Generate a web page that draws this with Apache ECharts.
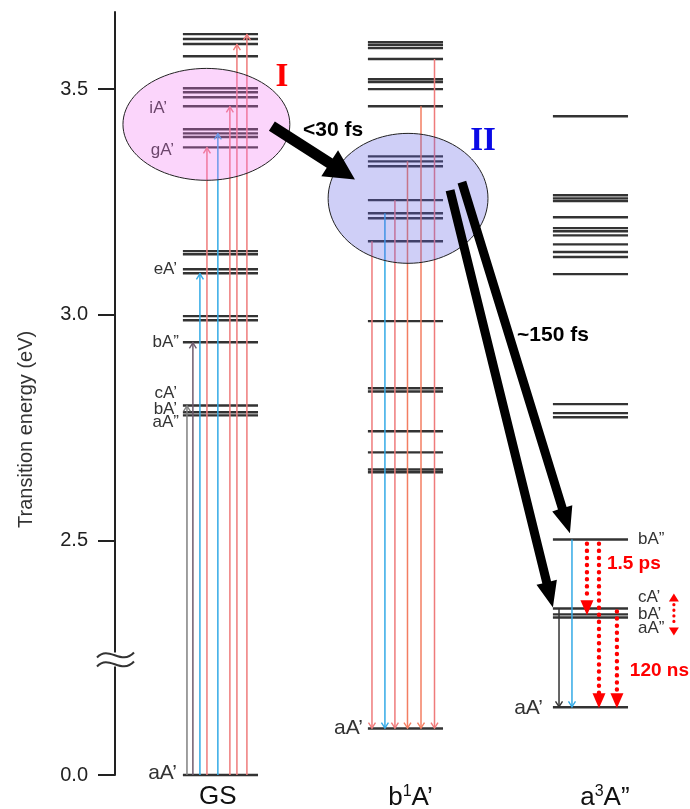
<!DOCTYPE html>
<html><head><meta charset="utf-8">
<script src="https://cdn.jsdelivr.net/npm/echarts@6/dist/echarts.min.js"></script>
<style>html,body{margin:0;padding:0;background:#fff}#c{width:690px;height:809px}</style>
</head><body><div id="c"></div>
<script>
// ---------- data (energies in eV as plotted on the broken axis; x in column units: GS=0, b1A'=1, a3A"=2) ----------
const COLUMNS = ['GS', 'b\u00b9A\u2019', 'a\u00b3A\u201d'];
const COLUMN_RICH = ['{n|GS}', '{n|b}{s|1}{n|A\u2019}', '{n|a}{s|3}{n|A\u201d}'];
const COLUMN_LABEL_X = [-0.014, 1.027, 2.078];
const Y_TICKS = [1.98, 2.5, 3.0, 3.5];
const Y_TICK_LABELS = ['0.0', '2.5', '3.0', '3.5'];
const BREAK_E = 2.236;

const GS_LEVELS = [3.622, 3.611, 3.600, 3.573, 3.502, 3.493, 3.482, 3.462, 3.411, 3.402, 3.394, 3.371,
  3.141, 3.134, 3.101, 3.092, 2.997, 2.988, 2.939, 2.799, 2.784, 2.777, 1.98];
const B1_LEVELS = [3.604, 3.598, 3.591, 3.567, 3.522, 3.516, 3.500, 3.462, 3.351, 3.340, 3.329, 3.254,
  3.225, 3.214, 3.163, 2.986, 2.837, 2.830, 2.742, 2.695, 2.657, 2.651, 2.083];
const A3_LEVELS = [3.440, 3.265, 3.258, 3.252, 3.216, 3.192, 3.185, 3.176, 3.156, 3.139, 3.128, 3.090,
  2.802, 2.782, 2.773, 2.502, 2.349, 2.336, 2.329, 2.130];

const GS_ARROW_X = [-0.181, -0.149, -0.111, -0.073, -0.014, 0.051, 0.089, 0.143];
const GS_ARROW_TO = [2.799, 2.939, 3.092, 3.371, 3.402, 3.462, 3.600, 3.622];
const GS_ARROW_KIND = ['gray', 'mauve', 'blue', 'red', 'blue', 'red', 'red', 'red'];
const B1_ARROW_X = [0.819, 0.889, 0.943, 1.011, 1.084, 1.157];
const B1_ARROW_FROM = [3.163, 3.225, 3.254, 3.340, 3.462, 3.567];
const B1_ARROW_KIND = ['red', 'blue', 'red', 'orange', 'orange', 'red'];
const A3_ARROW_X = [1.830, 1.900];
const A3_ARROW_FROM = [2.349, 2.502];
const A3_ARROW_KIND = ['black', 'blue'];

const DOT_X = [1.981, 2.046, 2.143];
const DOT_FROM = [2.497, 2.497, 2.347];
const DOT_TO = [2.334, 2.128, 2.128];
const DOUBLE_DOT = [2.451, 2.382, 2.289];

const LEVEL_LABEL_TEXT = ['iA\u2019', 'gA\u2019', 'eA\u2019', 'bA\u201d', 'cA\u2019', 'bA\u2019', 'aA\u201d',
  'aA\u2019', 'aA\u2019', 'aA\u2019', 'bA\u201d', 'cA\u2019', 'bA\u2019', 'aA\u201d'];
const LEVEL_LABEL_X = [-0.289, -0.251, -0.235, -0.224, -0.235, -0.235, -0.224, -0.235, 0.770, 1.743, 2.257, 2.257, 2.257, 2.257];
const LEVEL_LABEL_E = [3.458, 3.365, 3.101, 2.939, 2.826, 2.790, 2.762, 1.983, 2.083, 2.128, 2.502, 2.374, 2.336, 2.305];

const REGIONS = ['I', 'II'];
const REGION_ELLIPSE = [[-0.076, 3.422, 0.451, 0.124], [1.014, 3.258, 0.432, 0.144]];
const REGION_LABEL_POS = [[0.332, 3.527], [1.419, 3.385]];

const BIG_ARROWS = [[0.278, 3.418, 0.727, 3.300], [1.241, 3.276, 1.797, 2.351], [1.305, 3.294, 1.889, 2.516]];

const NOTES = ['<30 fs', '~150 fs', '1.5 ps', '120 ns'];
const NOTE_X = [0.446, 1.603, 2.089, 2.213];
const NOTE_E = [3.409, 2.955, 2.449, 2.210];

const AXIS_TITLE = 'Transition energy (eV)';
const AXIS_TITLE_E = 2.746;

// ---------- layout / style ----------
const X_MIN = -0.570, X_MAX = 2.538, Y_MIN = 1.98, Y_MAX = 3.671;
const HALF = 0.203;
const FONT = '"Liberation Sans", Arial, Helvetica, sans-serif';
const SERIF = '"Liberation Serif", "Times New Roman", serif';
const COLORS = {red: '#ef7b7b', orange: '#f37e62', blue: '#33aae6', gray: '#808080', mauve: '#6e5c6e', black: '#333333'};

const levelData = [].concat(
  GS_LEVELS.map(e => [0, e]), B1_LEVELS.map(e => [1, e]), A3_LEVELS.map(e => [2, e]));
const gsGround = GS_LEVELS[GS_LEVELS.length - 1];
const b1Ground = B1_LEVELS[B1_LEVELS.length - 1];
const a3Ground = A3_LEVELS[A3_LEVELS.length - 1];
const arrowData = [], arrowKind = [];
GS_ARROW_X.forEach((x, i) => { arrowData.push([x, gsGround, GS_ARROW_TO[i]]); arrowKind.push(GS_ARROW_KIND[i]); });
B1_ARROW_X.forEach((x, i) => { arrowData.push([x, B1_ARROW_FROM[i], b1Ground]); arrowKind.push(B1_ARROW_KIND[i]); });
A3_ARROW_X.forEach((x, i) => { arrowData.push([x, A3_ARROW_FROM[i], a3Ground]); arrowKind.push(A3_ARROW_KIND[i]); });

function nearestIdx(arr, v) { let b = 0; arr.forEach((a, i) => { if (Math.abs(a - v) < Math.abs(arr[b] - v)) b = i; }); return b; }

function arrowPoly(s, e, shaft, headLen, headW) {
  const dx = e[0] - s[0], dy = e[1] - s[1], L = Math.hypot(dx, dy), ux = dx / L, uy = dy / L, nx = -uy, ny = ux;
  const bx = e[0] - ux * headLen, by = e[1] - uy * headLen;
  return [[s[0] + nx * shaft / 2, s[1] + ny * shaft / 2], [bx + nx * shaft / 2, by + ny * shaft / 2],
    [bx + nx * headW / 2, by + ny * headW / 2], [e[0], e[1]], [bx - nx * headW / 2, by - ny * headW / 2],
    [bx - nx * shaft / 2, by - ny * shaft / 2], [s[0] - nx * shaft / 2, s[1] - ny * shaft / 2]];
}

const chart = echarts.init(document.getElementById('c'), null, {renderer: 'canvas'});
const option = {
  animation: false,
  backgroundColor: '#fff',
  grid: {left: 115, right: 0, top: 12, bottom: 34, containLabel: false, outerBoundsMode: 'none'},
  xAxis: {
    type: 'value', min: X_MIN, max: X_MAX,
    axisLine: {show: false, onZero: false}, axisTick: {show: false}, splitLine: {show: false},
    axisLabel: {customValues: COLUMN_LABEL_X, formatter: v => COLUMN_RICH[nearestIdx(COLUMN_LABEL_X, v)],
      margin: 9, color: '#111',
      rich: {n: {fontSize: 26, color: '#111', fontFamily: FONT},
             s: {fontSize: 16, color: '#111', fontFamily: FONT, padding: [0, 0, 12, 0]}}}
  },
  yAxis: {
    type: 'value', min: Y_MIN, max: Y_MAX, splitLine: {show: false},
    axisLine: {show: true, onZero: false, lineStyle: {color: '#222', width: 2}},
    axisTick: {show: true, customValues: Y_TICKS, length: 17, lineStyle: {color: '#222', width: 2}},
    axisLabel: {customValues: Y_TICKS, formatter: v => Y_TICK_LABELS[nearestIdx(Y_TICKS, v)],
      fontSize: 20, color: '#222', margin: 27, fontFamily: FONT}
  },
  series: [
    { // energy levels
      type: 'custom', z: 2, clip: false, data: levelData,
      renderItem: (p, api) => {
        const c = api.value(0), e = api.value(1);
        const a = api.coord([c - HALF, e]), b = api.coord([c + HALF, e]);
        return {type: 'line', shape: {x1: a[0], y1: a[1], x2: b[0], y2: b[1]}, style: {stroke: '#333', lineWidth: 2.4}};
      }
    },
    { // thin transition arrows
      type: 'custom', z: 3, clip: false, data: arrowData,
      renderItem: (p, api) => {
        const x = api.value(0);
        const a = api.coord([x, api.value(1)]), b = api.coord([x, api.value(2)]);
        const dir = b[1] < a[1] ? -1 : 1;
        const col = COLORS[arrowKind[p.dataIndex]];
        return {type: 'group', children: [
          {type: 'line', shape: {x1: a[0], y1: a[1], x2: b[0], y2: b[1]}, style: {stroke: col, lineWidth: 1.5}},
          {type: 'polyline', shape: {points: [[b[0] - 3.5, b[1] - dir * 6], [b[0], b[1] - dir * 0.5], [b[0] + 3.5, b[1] - dir * 6]]},
            style: {stroke: col, lineWidth: 1.4, fill: null}}
        ]};
      }
    },
    { // level labels
      type: 'custom', z: 3, clip: false, data: LEVEL_LABEL_X.map((x, i) => [x, LEVEL_LABEL_E[i]]),
      renderItem: (p, api) => {
        const i = p.dataIndex, x = api.value(0);
        const pt = api.coord([x, api.value(1)]);
        const ground = (i >= 7 && i <= 9);
        return {type: 'text', x: pt[0], y: pt[1], style: {text: LEVEL_LABEL_TEXT[i], fill: '#333',
          fontSize: ground ? 21 : 17, fontFamily: FONT, align: x > 2 ? 'left' : 'right', verticalAlign: 'middle'}};
      }
    },
    { // excitation regions
      type: 'custom', z: 4, clip: false, data: REGION_ELLIPSE,
      renderItem: (p, api) => {
        const c = api.coord([api.value(0), api.value(1)]);
        const s = api.size([api.value(2), api.value(3)]);
        const pts = [];
        for (let k = 0; k < 96; k++) { const t = k / 96 * Math.PI * 2; pts.push([c[0] + s[0] * Math.cos(t), c[1] + s[1] * Math.sin(t)]); }
        return {type: 'polygon', shape: {points: pts}, style: {
          fill: p.dataIndex === 0 ? 'rgba(242,115,242,0.3)' : 'rgba(95,95,228,0.3)', stroke: '#222', lineWidth: 1}};
      }
    },
    { // big relaxation arrows
      type: 'custom', z: 5, clip: false, data: BIG_ARROWS,
      renderItem: (p, api) => {
        const s = api.coord([api.value(0), api.value(1)]), e = api.coord([api.value(2), api.value(3)]);
        const first = p.dataIndex === 0;
        return {type: 'polygon', shape: {points: arrowPoly(s, e, first ? 11 : 9, first ? 30 : 26, first ? 31 : 21)},
          style: {fill: '#000'}};
      }
    },
    { // dotted red decay arrows
      type: 'custom', z: 5, clip: false, data: DOT_X.map((x, i) => [x, DOT_FROM[i], DOT_TO[i]]),
      renderItem: (p, api) => {
        const x = api.value(0);
        const a = api.coord([x, api.value(1)]), b = api.coord([x, api.value(2)]);
        const h = 15, w = 6.5;
        return {type: 'group', children: [
          {type: 'line', shape: {x1: a[0], y1: a[1] + 2, x2: b[0], y2: b[1] - h}, style: {stroke: '#f00', lineWidth: 4.4, lineDash: [0.1, 7], lineCap: 'round'}},
          {type: 'polygon', shape: {points: [[b[0] - w, b[1] - h], [b[0] + w, b[1] - h], [b[0], b[1]]]}, style: {fill: '#f00'}}
        ]};
      }
    },
    { // small double-headed dotted arrow
      type: 'custom', z: 5, clip: false, data: [DOUBLE_DOT],
      renderItem: (p, api) => {
        const x = api.value(0);
        const a = api.coord([x, api.value(1)]), b = api.coord([x, api.value(2)]);
        const h = 8, w = 5;
        return {type: 'group', children: [
          {type: 'line', shape: {x1: a[0], y1: a[1] + h + 3, x2: b[0], y2: b[1] - h - 2}, style: {stroke: '#f00', lineWidth: 3.2, lineDash: [0.1, 5.5], lineCap: 'round'}},
          {type: 'polygon', shape: {points: [[a[0] - w, a[1] + h], [a[0] + w, a[1] + h], [a[0], a[1]]]}, style: {fill: '#f00'}},
          {type: 'polygon', shape: {points: [[b[0] - w, b[1] - h], [b[0] + w, b[1] - h], [b[0], b[1]]]}, style: {fill: '#f00'}}
        ]};
      }
    },
    { // notes
      type: 'custom', z: 6, clip: false, data: NOTE_X.map((x, i) => [x, NOTE_E[i]]),
      renderItem: (p, api) => {
        const pt = api.coord([api.value(0), api.value(1)]);
        const red = p.dataIndex >= 2;
        return {type: 'text', x: pt[0], y: pt[1], style: {text: NOTES[p.dataIndex], fill: red ? '#f00' : '#000',
          fontSize: red ? 19 : 21, fontWeight: 'bold', fontFamily: FONT, align: 'left', verticalAlign: 'middle'}};
      }
    },
    { // region labels
      type: 'custom', z: 6, clip: false, data: REGION_LABEL_POS,
      renderItem: (p, api) => {
        const pt = api.coord([api.value(0), api.value(1)]);
        return {type: 'text', x: pt[0], y: pt[1], style: {text: REGIONS[p.dataIndex], fill: p.dataIndex === 0 ? '#f00' : '#0a0ae6',
          fontSize: 33, fontWeight: 'bold', fontFamily: SERIF, align: 'center', verticalAlign: 'middle'}};
      }
    },
    { // axis break and axis title
      type: 'custom', z: 7, clip: false, data: [[X_MIN, BREAK_E, AXIS_TITLE_E]],
      renderItem: (p, api) => {
        const c = api.coord([api.value(0), api.value(1)]);
        const t = api.coord([api.value(0), api.value(2)]);
        const x0 = c[0], y0 = c[1];
        const wave = dy => ({type: 'bezierCurve', shape: {x1: x0 - 18, y1: y0 + dy + 2, cpx1: x0 - 6, cpy1: y0 + dy - 11,
          cpx2: x0 + 6, cpy2: y0 + dy + 11, x2: x0 + 19, y2: y0 + dy - 3}, style: {stroke: '#333', lineWidth: 2, fill: null}});
        return {type: 'group', children: [
          {type: 'rect', shape: {x: x0 - 4, y: y0 - 7, width: 8, height: 14}, style: {fill: '#fff'}},
          wave(-4), wave(5),
          {type: 'text', x: t[0] - 89, y: t[1], rotation: Math.PI / 2, style: {text: AXIS_TITLE, fill: '#333',
            fontSize: 20, fontFamily: FONT, align: 'center', verticalAlign: 'middle'}}
        ]};
      }
    }
  ]
};
chart.setOption(option);
</script></body></html>
